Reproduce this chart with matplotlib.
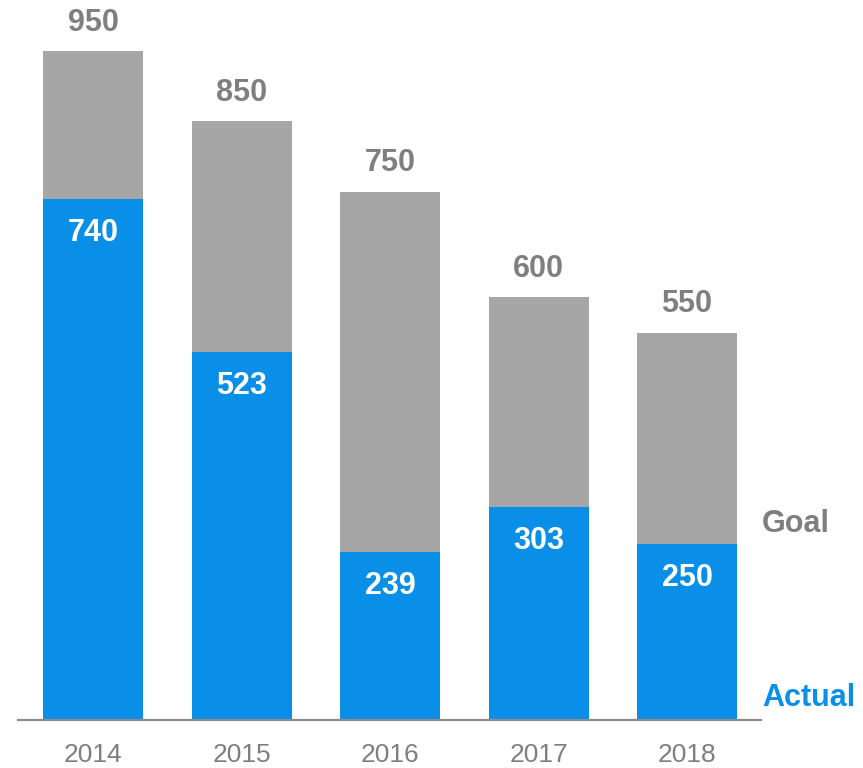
import matplotlib.pyplot as plt

# data
years = ['2014', '2015', '2016', '2017', '2018']
goal = [950, 850, 750, 600, 550]
actual = [740, 523, 239, 303, 250]

grey_bar = '#a6a6a6'
blue_bar = '#0a8fe9'
grey_txt = '#7f7f7f'

plt.rcParams['font.family'] = ['Liberation Sans', 'DejaVu Sans']

fig = plt.figure(figsize=(8.63, 7.68), dpi=100)
ax = fig.add_axes([18 / 863, 48 / 768, 743 / 863, 720 / 768])

x = list(range(len(years)))
w = 100 / 148.5

ax.bar(x, goal, width=w, color=grey_bar)
ax.bar(x, actual, width=w, color=blue_bar)

for i in x:
    ax.annotate(str(goal[i]), (i, goal[i]), xytext=(0, 20.5), textcoords='offset points',
                ha='center', va='center', fontsize=22, fontweight='bold', color=grey_txt)
    ax.annotate(str(actual[i]), (i, actual[i]), xytext=(0, -24.5), textcoords='offset points',
                ha='center', va='center', fontsize=22, fontweight='bold', color='white')

ax.text(4.505, 278, 'Goal', ha='left', va='center', fontsize=22, fontweight='bold',
        color=grey_txt, clip_on=False)
ax.text(4.505, 31, 'Actual', ha='left', va='center', fontsize=22, fontweight='bold',
        color=blue_bar, clip_on=False)

ax.set_xlim(-0.505, 4.498)
ax.set_ylim(0, 1022.4)
ax.set_xticks(x)
ax.set_xticklabels(years, fontsize=19, color=grey_txt)
ax.tick_params(axis='x', length=0, pad=16.5)
ax.set_yticks([])
for s in ['top', 'right', 'left']:
    ax.spines[s].set_visible(False)
ax.spines['bottom'].set_color('#8c8c8c')
ax.spines['bottom'].set_linewidth(1.6)

fig.savefig('out.png', dpi=100)
